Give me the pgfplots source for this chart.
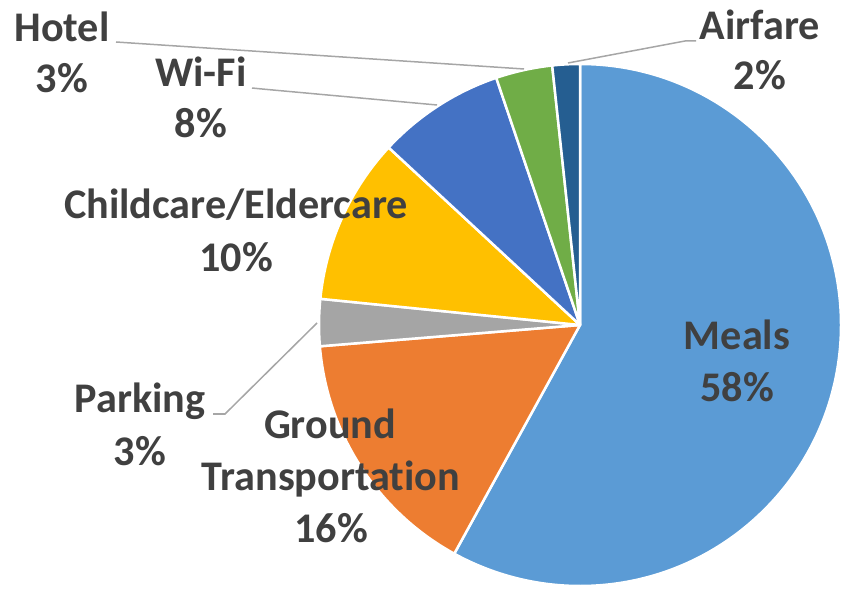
\documentclass[border=0pt]{standalone}
\usepackage{pgfplots}
\pgfplotsset{compat=1.18}
\usepackage{fontspec}
\setmainfont{Carlito}[RawFeature={-liga;-clig;-calt;-dlig}]
\definecolor{cMeals}{HTML}{5B9BD5}
\definecolor{cGround}{HTML}{ED7D31}
\definecolor{cPark}{HTML}{A5A5A5}
\definecolor{cChild}{HTML}{FFC000}
\definecolor{cWifi}{HTML}{4472C4}
\definecolor{cHotel}{HTML}{70AD47}
\definecolor{cAir}{HTML}{255E91}
\definecolor{txt}{HTML}{404040}
\definecolor{lead}{HTML}{A6A6A6}
\begin{document}
\begin{tikzpicture}[lab/.style={anchor=base, text=txt, inner sep=0pt, font=\fontsize{42.2}{50}\selectfont\bfseries}]
\begin{axis}[width=841pt, height=590pt, scale only axis,
  xmin=0, xmax=841, ymin=-590, ymax=0, hide axis, clip=false]
\coordinate (BL) at (axis cs:0,-590);
\coordinate (TR) at (axis cs:841,0);
% slices: share (percent) / colour, clockwise from 12 o'clock
\xdef\angA{90}
\foreach \v/\c in {58.0/cMeals, 15.7/cGround, 2.9/cPark, 10.3/cChild, 7.9/cWifi, 3.5/cHotel, 1.7/cAir}{
  \pgfmathsetmacro\angB{\angA-3.6*\v}
  \pgfmathsetmacro\sx{580+261*cos(\angA)}
  \pgfmathsetmacro\sy{-325+261*sin(\angA)}
  \edef\temp{\noexpand\fill[fill=\c, draw=white, line width=2.5pt, line join=round]
    (axis cs:580,-325) -- (axis cs:\sx,\sy) arc[start angle=\angA, end angle=\angB, radius=261pt] -- cycle;}
  \temp
  \xdef\angA{\angB}
}
% leader lines
\draw[lead, line width=1.5pt] (axis cs:116,-42) -- (axis cs:524,-69);
\draw[lead, line width=1.5pt] (axis cs:252,-88) -- (axis cs:262,-89) -- (axis cs:437,-105);
\draw[lead, line width=1.5pt] (axis cs:568,-63) -- (axis cs:685,-41) -- (axis cs:696,-41);
\draw[lead, line width=1.5pt] (axis cs:213,-414) -- (axis cs:225,-414) -- (axis cs:317,-323);
% labels
\node[lab] at (axis cs:737,-350) {Meals};
\node[lab] at (axis cs:737,-402) {58\%};
\node[lab] at (axis cs:330,-438) {Ground};
\node[lab] at (axis cs:331,-490) {Transportation};
\node[lab] at (axis cs:331,-542) {16\%};
\node[lab] at (axis cs:140,-413) {Parking};
\node[lab] at (axis cs:140,-465) {3\%};
\node[lab] at (axis cs:236,-219) {Childcare/Eldercare};
\node[lab] at (axis cs:236,-272) {10\%};
\node[lab] at (axis cs:201,-87) {Wi-Fi};
\node[lab] at (axis cs:201,-138) {8\%};
\node[lab] at (axis cs:62,-42) {Hotel};
\node[lab] at (axis cs:62,-93) {3\%};
\node[lab] at (axis cs:760,-40) {Airfare};
\node[lab] at (axis cs:760,-90) {2\%};
\end{axis}
\pgfresetboundingbox
\useasboundingbox (BL) rectangle (TR);
\end{tikzpicture}
\end{document}
